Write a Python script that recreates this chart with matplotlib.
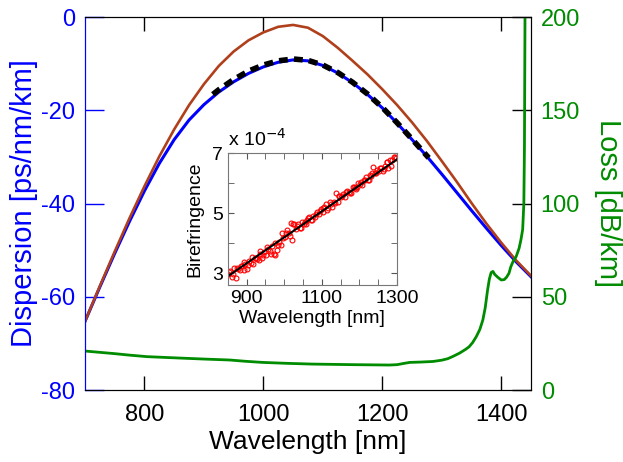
import numpy as np
import matplotlib
matplotlib.use('Agg')
from matplotlib import pyplot as plt

plt.rcParams['font.family'] = ['Liberation Sans', 'DejaVu Sans']
plt.rcParams['axes.unicode_minus'] = False

# dispersion curves (wavelength nm, ps/nm/km)
disp_wl = [700, 725, 750, 775, 800, 825, 850, 875, 900, 925, 950, 975, 1000, 1025, 1050,
           1075, 1100, 1125, 1150, 1175, 1200, 1225, 1250, 1275, 1300, 1325, 1350, 1375,
           1400, 1425, 1450]
blue_d = [-65.3, -57.9, -50.7, -43.8, -37.3, -31.4, -26.3, -22.1, -18.8, -16.1, -13.9, -12.1,
          -10.7, -9.7, -9.2, -9.4, -10.4, -12.0, -14.1, -16.6, -19.5, -22.8, -26.3, -29.9,
          -33.7, -37.6, -41.5, -45.3, -49.0, -52.5, -55.7]
brown_d = [-65.3, -57.7, -50.3, -43.1, -36.3, -29.9, -24.1, -18.9, -14.4, -10.5, -7.4, -5.0,
           -3.3, -2.1, -1.7, -2.3, -4.1, -6.6, -9.4, -12.3, -15.5, -18.9, -22.6, -26.6, -30.9,
           -35.3, -39.9, -44.3, -48.4, -52.2, -55.5]

fit_wl = [915, 925, 950, 975, 1000, 1025, 1050, 1075, 1100, 1125, 1150, 1175, 1200, 1225,
          1250, 1278]
fit_d = [-16.6, -15.6, -13.4, -11.6, -10.3, -9.4, -9.0, -9.3, -10.3, -11.9, -14.0, -16.5,
         -19.4, -22.7, -26.2, -30.2]

# loss (dB/km)
loss_wl = [700, 725, 750, 775, 804, 840, 870, 900, 943, 970, 999, 1040, 1083, 1150, 1212,
           1225, 1235, 1246, 1265, 1285, 1300, 1310, 1318, 1330, 1340, 1346, 1352, 1358,
           1364, 1369, 1373, 1377, 1380, 1383, 1386, 1389, 1394, 1400, 1405, 1409, 1413,
           1416, 1420, 1425, 1430, 1433, 1436, 1438, 1439, 1440]
loss = [20.9, 20.2, 19.5, 18.7, 17.9, 17.4, 17.0, 16.6, 16.1, 15.4, 14.8, 14.3, 13.9, 13.6,
        13.4, 13.6, 14.2, 14.8, 15.0, 15.3, 16.0, 16.8, 17.9, 19.8, 21.8, 23.2, 25.5, 28.6,
        32.5, 37.5, 44.0, 53.6, 59.5, 63.0, 63.6, 62.0, 60.5, 59.0, 59.2, 60.5, 62.6, 66.0,
        69.0, 71.5, 76.0, 80.4, 86.0, 100.0, 130.0, 205.0]

# inset: birefringence (x 1e-4)
bir_wl = np.arange(852, 1300, 5)
bir = [2.96, 3.07, 2.87, 3.18, 2.82, 3.14, 3.09, 3.25, 3.10, 3.30,
       3.12, 3.39, 3.34, 3.31, 3.52, 3.47, 3.43, 3.63, 3.49, 3.69,
       3.60, 3.82, 3.74, 3.90, 3.65, 3.61, 3.78, 4.04, 3.95, 4.18,
       4.21, 4.44, 4.33, 4.69, 4.09, 4.65, 4.47, 4.63, 4.51, 4.70,
       4.65, 4.64, 4.79, 4.89, 4.79, 4.91, 4.87, 5.03, 4.99, 5.15,
       5.05, 5.21, 5.32, 5.19, 5.36, 5.22, 5.39, 5.68, 5.38, 5.58,
       5.54, 5.64, 5.55, 5.75, 5.72, 5.68, 5.86, 5.84, 5.80, 6.00,
       5.99, 5.96, 6.12, 6.21, 6.11, 6.27, 6.23, 6.53, 6.34, 6.45,
       6.40, 6.52, 6.41, 6.57, 6.71, 6.50, 6.78, 6.77, 6.89, 6.86]
bir2_wl = np.arange(854.5, 1295, 10)
bir2 = [3.03, 2.97, 3.18, 3.24, 3.38, 3.28, 3.53, 3.50, 3.74, 3.61,
        3.86, 3.63, 4.02, 3.94, 4.34, 4.33, 4.24, 4.65, 4.57, 4.52,
        4.72, 4.85, 4.79, 4.97, 5.09, 5.16, 5.11, 5.32, 5.33, 5.57,
        5.57, 5.70, 5.67, 5.89, 5.86, 6.05, 6.10, 6.10, 6.35, 6.35,
        6.50, 6.47, 6.72, 6.58, 6.87]
bfit_wl = [850, 1300]
bfit = [2.89, 6.80]

BLUE = '#0000ff'
BROWN = '#b0401c'
GREEN = '#008c00'

fig = plt.figure(figsize=(6.23, 4.62), dpi=100)
ax = fig.add_axes([0.1364, 0.1558, 0.7159, 0.8074])
ax2 = ax.twinx()

ax.plot(disp_wl, brown_d, color=BROWN, lw=1.9, zorder=3)
ax.plot(disp_wl, blue_d, color=BLUE, lw=2.2, zorder=2)
ax.plot(fit_wl, fit_d, color='black', lw=4, ls=(0, (1.6, 1.1)), zorder=4)
ax2.plot(loss_wl, loss, color=GREEN, lw=2)

ax.set_xlim(700, 1450)
ax.set_ylim(-80, 0)
ax2.set_ylim(0, 200)
ax.set_xticks([800, 1000, 1200, 1400])
ax.set_yticks([-80, -60, -40, -20, 0])
ax2.set_yticks([0, 50, 100, 150, 200])

ax.tick_params(axis='x', direction='in', length=10, width=1, labelsize=17, top=True, pad=10)
ax.tick_params(axis='y', direction='in', length=14, width=1, colors=BLUE, labelsize=17, pad=7)
ax2.tick_params(axis='y', direction='in', length=14, width=1, color='black',
                labelcolor=GREEN, labelsize=17, pad=7)
ax.spines['left'].set_color(BLUE)
ax2.spines['left'].set_color(BLUE)

ax.set_xlabel('Wavelength [nm]', fontsize=19, labelpad=3)
ax.set_ylabel('Dispersion [ps/nm/km]', fontsize=21, color=BLUE, labelpad=2)
ax2.set_ylabel('Loss [dB/km]', fontsize=21, color=GREEN, rotation=270, labelpad=30)

# inset
ins = fig.add_axes([0.3655, 0.383, 0.2718, 0.285])
ins.plot(bir_wl, bir, 'o', mfc='none', mec='red', ms=3.5, mew=0.8)
ins.plot(bir2_wl, bir2, 'o', mfc='none', mec='red', ms=3.5, mew=0.8)
ins.plot(bfit_wl, bfit, color='black', lw=1.5)
ins.set_xlim(850, 1300)
ins.set_ylim(2.6, 7)
ins.set_xticks([900, 1100, 1300])
ins.set_xticks(np.arange(850, 1300, 50), minor=True)
ins.set_yticks([3, 5, 7])
ins.set_yticks([4, 6], minor=True)
ins.tick_params(which='both', direction='in', top=True, right=True, length=4,
                color='#555555', labelsize=14)
for s in ins.spines.values():
    s.set_color('#777777')
ins.set_xlabel('Wavelength [nm]', fontsize=14, labelpad=2)
ins.set_ylabel('Birefringence', fontsize=14, labelpad=6)
ins.text(0.0, 1.03, 'x 10$^{-4}$', transform=ins.transAxes, fontsize=14,
         ha='left', va='bottom')

fig.savefig('out.png', dpi=100)
